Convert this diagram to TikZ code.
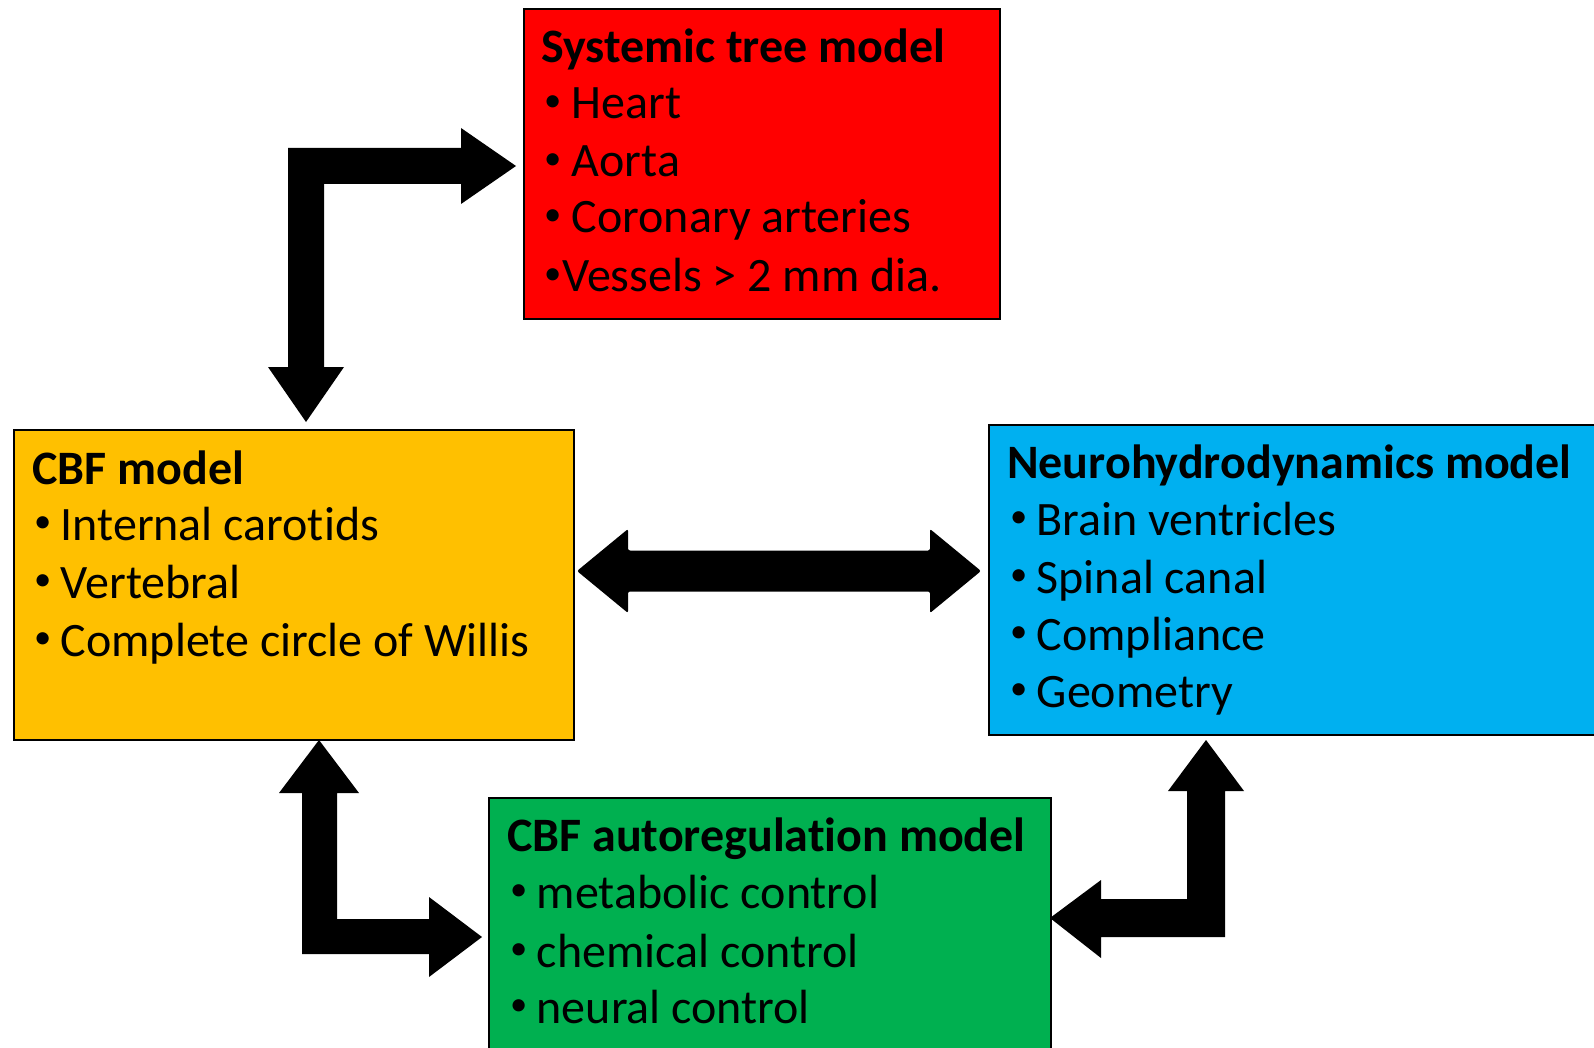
\documentclass[tikz,border=0pt]{standalone}
\usepackage{fontspec}
\setmainfont{Carlito}[Ligatures=NoCommon]
\definecolor{sysred}{HTML}{FF0000}
\definecolor{cbforange}{HTML}{FFC000}
\definecolor{neuroblue}{HTML}{00B0F0}
\definecolor{autogreen}{HTML}{00B050}
\newcommand{\mybul}[1][29.5pt]{\makebox[#1][l]{\hspace{3pt}\raisebox{7.3pt}{\scalebox{0.72}{•}}}}
\begin{document}
\begin{tikzpicture}[x=1pt,y=-1pt,
  modelbox/.style={draw=black, line width=2pt, rectangle, inner sep=0pt, anchor=north west},
  boxtitle/.style={anchor=base west, inner sep=0pt, font=\fontsize{48}{57.5}\selectfont\bfseries},
  boxitem/.style={anchor=base west, inner sep=0pt, font=\fontsize{48}{57.5}\selectfont},
  blockarrow/.style={fill=black, draw=none}]
\useasboundingbox[fill=white] (0,0) rectangle (1594,1048);

% boxes
\node[modelbox, fill=sysred, minimum width=476pt, minimum height=310pt] (sys) at (523,8) {};
\node[modelbox, fill=cbforange, minimum width=560.5pt, minimum height=310pt] (cbf) at (12.5,429) {};
\node[modelbox, fill=neuroblue, minimum width=620pt, minimum height=310pt] (neuro) at (988,424) {};
\node[modelbox, fill=autogreen, minimum width=562pt, minimum height=280pt] (auto) at (488,797) {};

% texts: systemic
\node[boxtitle] (sysT) at (541,63) {Systemic tree model};
\node[boxitem] (sys1) at (541,119) {\mybul[30.5pt]Heart};
\node[boxitem] (sys2) at (541,177) {\mybul[30.5pt]Aorta};
\node[boxitem] (sys3) at (541,233) {\mybul[30.5pt]Coronary arteries};
\node[boxitem] (sys4) at (541,292) {\mybul[21pt]Vessels > 2 mm dia.};

% CBF
\node[boxtitle] (cbfT) at (32,484) {CBF model};
\node[boxitem] (cbf1) at (31,540) {\mybul Internal carotids};
\node[boxitem] (cbf2) at (31,598) {\mybul Vertebral};
\node[boxitem] (cbf3) at (31,656) {\mybul Complete circle of Willis};

% Neuro
\node[boxtitle] (neuroT) at (1007,478) {Neurohydrodynamics model};
\node[boxitem] (neuro1) at (1007,535) {\mybul Brain ventricles};
\node[boxitem] (neuro2) at (1007,593) {\mybul Spinal canal};
\node[boxitem] (neuro3) at (1007,650) {\mybul Compliance};
\node[boxitem] (neuro4) at (1007,707) {\mybul Geometry};

% Auto
\node[boxtitle] (autoT) at (507,851) {CBF autoregulation model};
\node[boxitem] (auto1) at (507,908) {\mybul metabolic control};
\node[boxitem] (auto2) at (507,967) {\mybul chemical control};
\node[boxitem] (auto3) at (507,1023) {\mybul neural control};

% arrow CBF <-> systemic
\fill[blockarrow] (306,422) -- (344,367) -- (324,367) -- (324,184) -- (461,184) -- (461,204)
  -- (516,166) -- (461,128) -- (461,148) -- (288,148) -- (288,367) -- (268,367) -- cycle;

% arrow CBF <-> neuro
\fill[blockarrow, rounded corners=2pt] (577,571) -- (628,529) -- (628,550.5) -- (930,550.5) -- (930,529)
  -- (981,571) -- (930,613) -- (930,591.5) -- (628,591.5) -- (628,613) -- cycle;

% arrow CBF <-> auto
\fill[blockarrow] (319,740) -- (359,793) -- (337,793) -- (337,919) -- (429,919) -- (429,897)
  -- (482,937) -- (429,977) -- (429,954) -- (302,954) -- (302,793) -- (279,793) -- cycle;

% arrow neuro <-> auto
\fill[blockarrow] (1206,740) -- (1244,791) -- (1225,791) -- (1225,937) -- (1101,937) -- (1101,958)
  -- (1050,918) -- (1101,880) -- (1101,899) -- (1187,899) -- (1187,791) -- (1168,791) -- cycle;
\end{tikzpicture}
\end{document}
